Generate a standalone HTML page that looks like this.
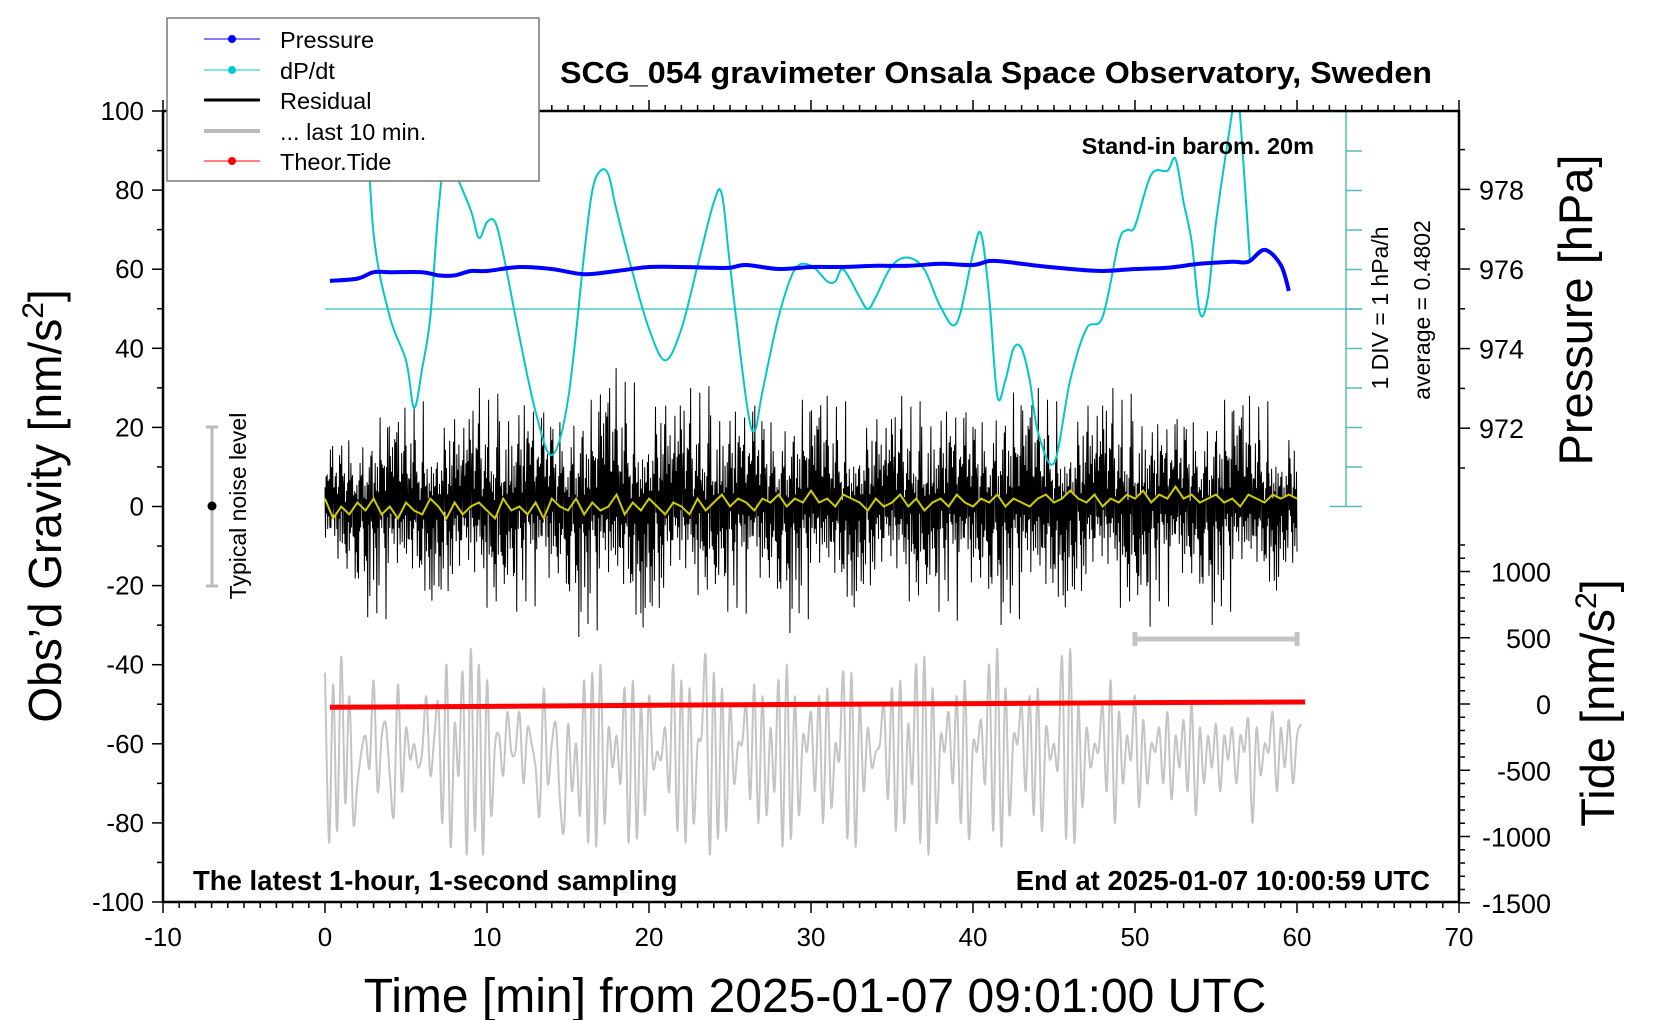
<!DOCTYPE html>
<html><head><meta charset="utf-8">
<style>
html,body{margin:0;padding:0;background:#fff;}
svg{display:block;font-family:"Liberation Sans",sans-serif;}
</style></head>
<body>
<svg id="chart" width="1660" height="1020" viewBox="0 0 1660 1020" xmlns="http://www.w3.org/2000/svg">
<rect width="1660" height="1020" fill="#fff"/>
<g id="plot"></g>
<g id="axes"></g>
<text x="1432" y="83" text-anchor="end" font-size="31" font-weight="bold" textLength="872" lengthAdjust="spacingAndGlyphs">SCG_054 gravimeter Onsala Space Observatory, Sweden</text>
<text x="1314" y="154" text-anchor="end" font-size="23.5" font-weight="bold">Stand-in barom. 20m</text>
<text x="193" y="890" font-size="27.5" font-weight="bold">The latest 1-hour, 1-second sampling</text>
<text x="1430" y="890" text-anchor="end" font-size="27.5" font-weight="bold">End at 2025-01-07 10:00:59 UTC</text>
<text x="815" y="1012" text-anchor="middle" font-size="48">Time [min] from 2025-01-07 09:01:00 UTC</text>
<text transform="translate(61,506) rotate(-90)" text-anchor="middle" font-size="46">Obs’d Gravity [nm/s<tspan font-size="30" dy="-18">2</tspan><tspan dy="18">]</tspan></text>
<text transform="translate(1592,310) rotate(-90)" text-anchor="middle" font-size="47">Pressure [hPa]</text>
<text transform="translate(1614,703) rotate(-90)" text-anchor="middle" font-size="47">Tide [nm/s<tspan font-size="30" dy="-18">2</tspan><tspan dy="18">]</tspan></text>
<text transform="translate(1388,308) rotate(-90)" text-anchor="middle" font-size="23">1 DIV = 1 hPa/h</text>
<text transform="translate(1430,310) rotate(-90)" text-anchor="middle" font-size="23">average = 0.4802</text>
<g>
<line x1="212" y1="427" x2="212" y2="586" stroke="#bbb" stroke-width="3"/>
<line x1="206" y1="427" x2="218" y2="427" stroke="#bbb" stroke-width="3"/>
<line x1="206" y1="586" x2="218" y2="586" stroke="#bbb" stroke-width="3"/>
<circle cx="212" cy="506" r="4.5" fill="#000"/>
<text transform="translate(246,506) rotate(-90)" text-anchor="middle" font-size="23">Typical noise level</text>
</g>
<g>
<rect x="167" y="18" width="372" height="163" fill="#fff" stroke="#777" stroke-width="1.5"/>
<line x1="204" y1="39" x2="260" y2="39" stroke="#00f" stroke-width="1"/><circle cx="232" cy="39" r="4" fill="#00f"/>
<text x="280" y="48" font-size="23.5">Pressure</text>
<line x1="204" y1="70" x2="260" y2="70" stroke="#0cc" stroke-width="1"/><circle cx="232" cy="70" r="4" fill="#0cc"/>
<text x="280" y="79" font-size="23.5">dP/dt</text>
<line x1="204" y1="100" x2="260" y2="100" stroke="#000" stroke-width="3"/>
<text x="280" y="109" font-size="23.5">Residual</text>
<line x1="204" y1="131" x2="260" y2="131" stroke="#bbb" stroke-width="4"/>
<text x="280" y="140" font-size="23.5">... last 10 min.</text>
<line x1="204" y1="161" x2="260" y2="161" stroke="#f00" stroke-width="1"/><circle cx="232" cy="161" r="4" fill="#f00"/>
<text x="280" y="170" font-size="23.5">Theor.Tide</text>
</g>
</svg>
<script>
// ---- data ----
const pressureTimes=[0.3,2,3,4,6,7,8,9,10,12,14,16,18,20,22,24,25,26,28,30,32,34,36,38,40,41,42,44,46,48,50,52,54,56,57,58,59,59.5];
const pressureValues=[975.7,975.76,975.92,975.92,975.92,975.84,975.84,975.95,975.95,976.05,976.0,975.87,975.95,976.05,976.05,976.03,976.03,976.1,976.0,976.05,976.05,976.08,976.08,976.13,976.1,976.2,976.18,976.08,976.0,975.95,976.0,976.03,976.13,976.18,976.18,976.48,976.1,975.45];
const dpdtTimes=[2.5,3,4,5,5.5,6,6.5,7,7.5,8,9,9.5,10,10.5,11,12,13,14,15,16,16.5,17,17.5,18,19,20,21,22,23,24,24.5,25,26,26.5,27,28,29,30,31,31.5,32,33,33.5,34,35,36,37,38,39,40,40.5,41,41.5,42,42.5,43,43.5,44,45,46,47,48,49,49.5,50,51,52,52.5,53,53.5,54,54.5,55,56,56.3,57.1];
const dpdtValues=[5.6,1.9,-0.2,-1.3,-2.5,-1.5,-0.2,2.5,4.1,3.5,2.5,1.8,2.2,2.2,1.4,-0.7,-2.6,-3.7,-2.3,1.4,3.0,3.5,3.4,2.5,0.9,-0.5,-1.3,-0.5,1.1,2.7,2.9,1.1,-2.3,-3.1,-2.1,-0.2,1.0,1.1,0.7,0.7,1.0,0.3,0.0,0.3,1.1,1.3,1.0,0.05,-0.35,1.4,1.9,0.3,-2.2,-1.8,-1.0,-1.0,-1.8,-3.1,-3.9,-1.8,-0.5,-0.2,1.7,2.0,2.1,3.4,3.5,3.8,2.7,1.7,-0.1,0.3,2.2,5.0,5.8,1.2];
const dpdtAverage=0.4802;
const residualHi=[18,22,25,28,26,30,32,28,30,35,33,30,32,30,28,30,28,26,28,30,28,32,30,28,30,30,26,28,30,28,22];
const residualLo=[-22,-28,-30,-28,-30,-32,-28,-30,-33,-35,-36,-30,-28,-30,-32,-30,-30,-28,-30,-28,-32,-30,-35,-30,-28,-32,-28,-30,-28,-25,-20];
const residualPatternA=[0.3,0.8,0.5,0.2,0.9,0.4,0.6,0.15,0.7,0.35,1,0.25,0.55,0.45,0.85,0.1,0.65,0.3,0.75,0.5,0.2,0.95,0.4];
const residualPatternB=[0.9,0.6,1,0.45,0.75,0.3,0.85,0.55,1,0.4,0.7,0.95,0.5,0.8,0.35,0.65,1];
const smoothValues=[2,-3,0,-2,1,-1,2,-2,0,-3,1,-1,-2,2,0,-3,1,-2,0,1,-1,-3,2,-1,0,-2,1,-3,2,0,-1,2,-2,1,-1,0,3,-2,1,-1,2,0,-2,1,0,-2,2,-1,1,3,0,2,1,-1,2,1,3,0,2,1,4,1,2,0,3,2,1,-1,2,0,1,3,0,2,-1,1,2,0,3,1,0,2,1,3,0,2,1,0,2,3,1,2,4,2,1,3,0,2,1,3,2,4,1,3,2,5,2,3,1,2,3,1,2,0,3,2,1,3,2,3,2];
const grayValues=[-42,-85,-45,-82,-38,-75,-48,-80,-70,-62,-58,-66,-44,-72,-58,-55,-68,-78,-45,-72,-56,-64,-60,-66,-62,-48,-68,-58,-50,-80,-40,-86,-55,-68,-42,-88,-36,-82,-40,-88,-44,-78,-60,-58,-68,-52,-62,-62,-52,-70,-56,-60,-66,-78,-46,-70,-60,-55,-74,-82,-55,-72,-60,-78,-44,-85,-42,-86,-40,-80,-56,-66,-58,-70,-46,-85,-44,-84,-50,-78,-48,-66,-62,-64,-56,-72,-40,-82,-44,-85,-46,-80,-60,-58,-38,-88,-42,-84,-46,-82,-50,-70,-60,-60,-50,-74,-45,-80,-48,-78,-56,-72,-44,-86,-40,-84,-48,-78,-58,-62,-52,-72,-48,-80,-46,-76,-60,-64,-42,-84,-42,-86,-50,-72,-56,-66,-62,-60,-50,-74,-46,-82,-44,-80,-55,-70,-40,-85,-38,-88,-46,-80,-58,-62,-52,-70,-48,-80,-44,-84,-60,-62,-54,-70,-40,-82,-36,-86,-46,-78,-58,-60,-50,-72,-48,-78,-46,-82,-56,-64,-60,-66,-38,-84,-36,-85,-50,-76,-56,-66,-60,-62,-50,-72,-44,-80,-52,-70,-58,-64,-48,-76,-54,-70,-60,-62,-56,-70,-52,-74,-58,-66,-54,-72,-50,-78,-56,-70,-58,-66,-55,-72,-58,-64,-56,-70,-58,-62,-54,-80,-56,-68,-60,-62,-52,-72,-56,-66,-54,-70,-58,-55];
const tideTimes=[0.3,10,20,30,40,50,60.5];
const tideValues=[-25,-18,-10,-3,3,10,15];
const xTicks=[-10,0,10,20,30,40,50,60,70];
const yTicks=[-100,-80,-60,-40,-20,0,20,40,60,80,100];
const pTicks=[972,974,976,978];
const tideTicks=[-1500,-1000,-500,0,500,1000];

// ---- scales ----
const X=t=>325+t*16.2;
const Y=g=>506.5-g*3.955;
const P=p=>269-(p-976)*39.8;
const T=v=>704-v*0.1325;
const D=v=>309-(v-0)*39.5;
const NS="http://www.w3.org/2000/svg";
const plot=document.getElementById('plot'), axes=document.getElementById('axes');
function mk(tag,parent){const e=document.createElementNS(NS,tag);parent.appendChild(e);return e;}
function catmull(pts){let d='M'+pts[0][0].toFixed(1)+','+pts[0][1].toFixed(1);
 for(let i=0;i<pts.length-1;i++){const p0=pts[Math.max(0,i-1)],p1=pts[i],p2=pts[i+1],p3=pts[Math.min(pts.length-1,i+2)];
  d+=' C'+(p1[0]+(p2[0]-p0[0])/6).toFixed(1)+','+(p1[1]+(p2[1]-p0[1])/6).toFixed(1)+' '+(p2[0]-(p3[0]-p1[0])/6).toFixed(1)+','+(p2[1]-(p3[1]-p1[1])/6).toFixed(1)+' '+p2[0].toFixed(1)+','+p2[1].toFixed(1);}
 return d;}

const defs=mk('defs',plot);const cp=mk('clipPath',defs);cp.setAttribute('id','clip');
const cr=mk('rect',cp);cr.setAttribute('x',163);cr.setAttribute('y',111);cr.setAttribute('width',1296);cr.setAttribute('height',791);

// gray last-10-min series
let gp=grayValues.map((v,i)=>[X(i*0.25),Y(v)]);
const gray=mk('path',plot);


gray.setAttribute('d',catmull(gp));gray.setAttribute('fill','none');gray.setAttribute('stroke','#c4c4c4');gray.setAttribute('stroke-width','2');

// residual
let rp=[];const N=1800;
for(let i=0;i<=N;i++){const t=i*60/N;const k=Math.min(30,Math.round(t/2));
 const f=residualPatternA[i%residualPatternA.length]*residualPatternB[(i*3)%residualPatternB.length];
 const up=((i+Math.floor(i/residualPatternB.length))%2===0);
 const v=up?residualHi[k]*f:residualLo[k]*f;rp.push(X(t).toFixed(1)+','+Y(v).toFixed(1));}
const res=mk('polyline',plot);


res.setAttribute('points',rp.join(' '));res.setAttribute('fill','none');res.setAttribute('stroke','#000');res.setAttribute('stroke-width','1');

// smoothed yellow
const sm=mk('polyline',plot);


sm.setAttribute('points',smoothValues.map((v,i)=>X(i*0.5).toFixed(1)+','+Y(v).toFixed(1)).join(' '));
sm.setAttribute('fill','none');sm.setAttribute('stroke','#cccc00');sm.setAttribute('stroke-width','2');

// tide
const td=mk('polyline',plot);


td.setAttribute('points',tideTimes.map((t,i)=>X(t).toFixed(1)+','+T(tideValues[i]).toFixed(1)).join(' '));
td.setAttribute('fill','none');td.setAttribute('stroke','#f00');td.setAttribute('stroke-width','5');

// dP/dt average line and axis
const avg=mk('line',plot);


avg.setAttribute('x1',X(0));avg.setAttribute('x2',1362);avg.setAttribute('y1',D(0));avg.setAttribute('y2',D(0));avg.setAttribute('stroke','#5cc');avg.setAttribute('stroke-width','1.5');
const dax=mk('g',plot);


const dl=mk('line',dax);dl.setAttribute('x1',1346);dl.setAttribute('x2',1346);dl.setAttribute('y1',111);dl.setAttribute('y2',506);dl.setAttribute('stroke','#5bb');dl.setAttribute('stroke-width','1.5');
for(let k=-5;k<=5;k++){const y=D(k);if(y<110||y>507)continue;const l=mk('line',dax);const big=(y<112||y>505);
 l.setAttribute('x1',big?1330:1346);l.setAttribute('x2',1362);l.setAttribute('y1',y);l.setAttribute('y2',y);l.setAttribute('stroke','#5bb');l.setAttribute('stroke-width','1.5');}

// dP/dt curve
const dp=mk('path',plot);


dp.setAttribute('d',catmull(dpdtTimes.map((t,i)=>[X(t),D(dpdtValues[i])])));
dp.setAttribute('clip-path','url(#clip)');dp.setAttribute('fill','none');dp.setAttribute('stroke','#00c8c8');dp.setAttribute('stroke-width','2');

// pressure
const pr=mk('path',plot);


pr.setAttribute('d',catmull(pressureTimes.map((t,i)=>[X(t),P(pressureValues[i])])));
pr.setAttribute('fill','none');pr.setAttribute('stroke','#00f');pr.setAttribute('stroke-width','4');

// 10-min bracket
const br=mk('g',plot);


[[X(50),639,X(60),639],[X(50),632,X(50),646],[X(60),632,X(60),646]].forEach(a=>{const l=mk('line',br);l.setAttribute('x1',a[0]);l.setAttribute('y1',a[1]);l.setAttribute('x2',a[2]);l.setAttribute('y2',a[3]);l.setAttribute('stroke','#c4c4c4');l.setAttribute('stroke-width','5');});

// axes frame
function ln(x1,y1,x2,y2,w,p){const l=mk('line',p||axes);l.setAttribute('x1',x1);l.setAttribute('y1',y1);l.setAttribute('x2',x2);l.setAttribute('y2',y2);l.setAttribute('stroke','#000');l.setAttribute('stroke-width',w);return l;}
function tx(s,x,y,anc,size,p){const t=mk('text',p||axes);t.textContent=s;t.setAttribute('x',x);t.setAttribute('y',y);t.setAttribute('text-anchor',anc);t.setAttribute('font-size',size);return t;}
ln(163,111,1459,111,2.5);ln(163,902,1459,902,2.5);ln(163,110,163,903,2.5);ln(1459,110,1459,903,2.5);
for(let m=-10;m<=70;m++){const x=X(m);const maj=m%10===0;ln(x,902,x,maj?913:908,1.5);ln(x,111,x,maj?100:105,1.5);}
xTicks.forEach(v=>{const t=tx(String(v),X(v),946,'middle',26);});
for(let g=-100;g<=100;g+=10){const y=Y(g);ln(g%20===0?152:157,y,163,y,1.5);}
yTicks.forEach(v=>{const t=tx(String(v),144,Y(v)+9,'end',26);});
for(let p=971;p<=979;p++){const y=P(p);if(y<112)continue;ln(1459,y,p%2===0?1470:1465,y,1.5);}
pTicks.forEach(v=>{const t=tx(String(v),1479,P(v)+10,'start',27);});
for(let v=-1500;v<=1200;v+=100){const y=T(v);if(y<520)continue;ln(1459,y,v%500===0?1470:1465,y,1.5);}
tideTicks.forEach(v=>{const t=tx(String(v),1551,T(v)+10,'end',27);});
</script>
</body></html>
